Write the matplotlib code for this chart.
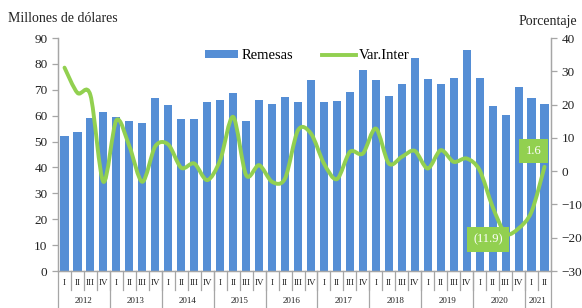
import matplotlib
matplotlib.use("Agg")
import matplotlib.pyplot as plt
from matplotlib.path import Path
from matplotlib.patches import PathPatch
import numpy as np

plt.rcParams['font.family'] = ['Liberation Serif', 'DejaVu Serif']

years = ['2012', '2013', '2014', '2015', '2016', '2017', '2018', '2019', '2020', '2021']
quarters = ['I', 'II', 'III', 'IV']
quarter_counts = [4, 4, 4, 4, 4, 4, 4, 4, 4, 2]

remesas = [52.1, 53.7, 59.1, 61.4,
           59.5, 58.1, 57.2, 66.8,
           64.1, 58.7, 58.7, 65.3,
           66.0, 68.8, 58.1, 66.0,
           64.5, 67.2, 65.3, 73.8,
           65.3, 65.7, 69.1, 77.6,
           73.8, 67.6, 72.2, 82.3,
           74.2, 72.2, 74.5, 85.4,
           74.5, 63.7, 60.3, 71.1,
           66.8, 64.5]

var_inter = [31.1, 23.5, 22.8, -3.2,
             15.3, 7.5, -3.2, 7.5,
             8.0, 1.0, 2.3, -2.7,
             3.3, 16.3, -1.2, 1.8,
             -3.2, -2.2, 12.3, 11.3,
             2.3, -2.4, 5.8, 5.3,
             12.8, 2.3, 4.3, 6.1,
             0.8, 6.3, 2.8, 3.8,
             0.3, -10.7, -18.7, -17.2,
             -12.2, 1.3]

labels_idx = [34, 37]
labels_txt = ['(11.9)', '1.6']

bar_color = '#558ED5'
line_color = '#92D050'
axis_color = '#A6A6A6'

fig = plt.figure(figsize=(5.82, 3.08), dpi=100)
ax = fig.add_axes([0.0997, 0.1201, 0.8470, 0.7565])
ax2 = ax.twinx()

n = len(remesas)
x = np.arange(n)
ax.bar(x, remesas, width=0.62, color=bar_color, zorder=2, label='Remesas')
ax.set_xlim(-0.5, n - 0.5)
ax.set_ylim(0, 90)
ax.set_yticks(range(0, 91, 10))
ax2.set_ylim(-30, 40)
ax2.set_yticks(range(-30, 41, 10))

# smooth line (Bezier through the data points, Excel-like smoothing)
pts = np.column_stack([x, var_inter]).astype(float)
verts = [tuple(pts[0])]
codes = [Path.MOVETO]
k = 1.0 / 6.5
for i in range(n - 1):
    p0 = pts[i - 1] if i > 0 else pts[i]
    p1 = pts[i]
    p2 = pts[i + 1]
    p3 = pts[i + 2] if i + 2 < n else pts[i + 1]
    c1 = p1 + (p2 - p0) * k
    c2 = p2 - (p3 - p1) * k
    verts += [tuple(c1), tuple(c2), tuple(p2)]
    codes += [Path.CURVE4] * 3
path = Path(verts, codes)
ax2.add_patch(PathPatch(path, facecolor='none', edgecolor=line_color, lw=2.8,
                        capstyle='round', joinstyle='round', zorder=3))
ax2.plot([], [], color=line_color, lw=2.8, label='Var.Inter')

# data labels
offs = {34: (-12.6, -4.3), 37: (-8, 11.5)}
for i, t in zip(labels_idx, labels_txt):
    ax2.annotate(t, (x[i], var_inter[i]), xytext=offs[i], textcoords='offset points',
                 ha='center', va='center', color='white', fontsize=9,
                 bbox=dict(boxstyle='square,pad=0.5', fc=line_color, ec='none'), zorder=5)

# spines
for a in (ax, ax2):
    a.spines['top'].set_visible(False)
    for s in ('left', 'right', 'bottom'):
        a.spines[s].set_color(axis_color)
        a.spines[s].set_linewidth(0.9)
ax.tick_params(axis='y', colors=axis_color, labelcolor='#222222', labelsize=9.5,
               length=4, width=0.9, direction='out')
ax2.tick_params(axis='y', colors=axis_color, labelcolor='#222222', labelsize=9.5,
                length=4, width=0.9, direction='out')
ax.tick_params(axis='x', bottom=False, labelbottom=False)
ax2.tick_params(axis='x', bottom=False, labelbottom=False)

# multi-level category axis
trans = ax.get_xaxis_transform()
q_y = -0.052
y_y = -0.130
q_sep = -0.082
y_sep = -0.165
for i in range(n):
    ax.text(x[i], q_y, quarters[i % 4], transform=trans, ha='center', va='center',
            fontsize=6.5, color='#222222', clip_on=False)
for b in range(1, n):
    ax.plot([b - 0.5, b - 0.5], [0, q_sep], transform=trans, color=axis_color,
            lw=0.9, clip_on=False)
start = 0
edges = [-0.5]
for yr, c in zip(years, quarter_counts):
    center = start + (c - 1) / 2.0
    ax.text(center, y_y, yr, transform=trans, ha='center', va='center',
            fontsize=6.5, color='#222222', clip_on=False)
    start += c
    edges.append(start - 0.5)
for e in edges:
    ax.plot([e, e], [0, y_sep], transform=trans, color=axis_color, lw=0.9, clip_on=False)

# legend
h1, l1 = ax.get_legend_handles_labels()
h2, l2 = ax2.get_legend_handles_labels()
ax.legend(h1 + h2, l1 + l2, loc='center', bbox_to_anchor=(0.505, 0.923), ncol=2,
          frameon=False, fontsize=10.5, handlelength=2.3, handleheight=0.5,
          columnspacing=2.0, handletextpad=0.2)

fig.text(8 / 582, 1 - 19 / 308, 'Millones de dólares', ha='left', va='center',
         fontsize=10, color='#222222')
fig.text(577 / 582, 1 - 21 / 308, 'Porcentaje', ha='right', va='center',
         fontsize=10, color='#222222')

fig.savefig('out.png', dpi=100)
